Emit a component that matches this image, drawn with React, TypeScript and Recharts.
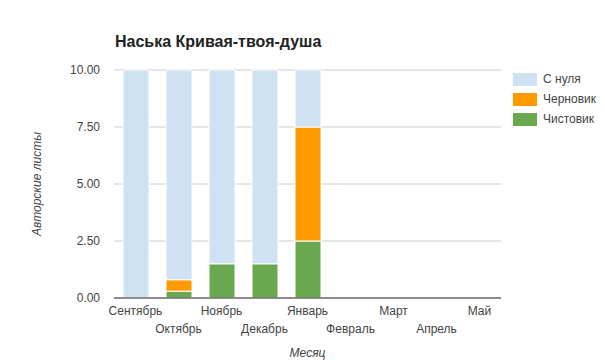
import { BarChart, Bar, XAxis, YAxis, CartesianGrid } from 'recharts';

const months = ['Сентябрь', 'Октябрь', 'Ноябрь', 'Декабрь', 'Январь', 'Февраль', 'Март', 'Апрель', 'Май'];
const clean = [0, 0.3, 1.5, 1.5, 2.5, 0, 0, 0, 0];
const draft = [0, 0.5, 0, 0, 5, 0, 0, 0, 0];
const fromScratch = [10, 9.2, 8.5, 8.5, 2.5, 0, 0, 0, 0];
const yTicks = [0, 2.5, 5, 7.5, 10];

const series = [
  { key: 'fromScratch', name: 'С нуля', color: '#cfe2f3' },
  { key: 'draft', name: 'Черновик', color: '#ff9900' },
  { key: 'clean', name: 'Чистовик', color: '#6aa84f' },
];

const data = months.map((m, i) => ({
  month: m,
  clean: clean[i],
  draft: draft[i],
  fromScratch: fromScratch[i],
}));

const font = 'Arial, "Liberation Sans", sans-serif';

function MonthTick(props: any) {
  const { x, y, payload, index } = props;
  const row = index % 2 === 0 ? 0 : 1;
  return (
    <text x={x} y={y + 9 + row * 18} textAnchor="middle" fill="#444" fontSize={12} fontFamily={font}>
      {payload.value}
    </text>
  );
}

export default function App() {
  return (
    <div style={{ position: 'absolute', left: 0, top: 0, width: 605, height: 360, background: '#fff', fontFamily: font }}>
      <div style={{ position: 'absolute', left: 115, top: 33, fontSize: 16, fontWeight: 'bold', color: '#222' }}>
        Наська Кривая-твоя-душа
      </div>
      <BarChart width={605} height={360} data={data} margin={{ top: 70, right: 104, bottom: 0, left: 0 }}>
        <CartesianGrid vertical={false} stroke="#ccc" />
        <XAxis
          dataKey="month"
          tick={<MonthTick />}
          tickLine={false}
          axisLine={{ stroke: '#333' }}
          interval={0}
          height={62}
          label={{ value: 'Месяц', position: 'insideBottom', offset: 3, fontStyle: 'italic', fontSize: 12, fill: '#444', fontFamily: font }}
        />
        <YAxis
          width={114}
          domain={[0, 10]}
          ticks={yTicks}
          tickFormatter={(v: number) => v.toFixed(2)}
          tickLine={false}
          axisLine={false}
          tickSize={6}
          tickMargin={8}
          tick={{ fill: '#444', fontSize: 12, fontFamily: font }}
          label={{ value: 'Авторские листы', angle: -90, position: 'insideLeft', offset: 37, fontStyle: 'italic', fontSize: 12, fill: '#444', fontFamily: font, style: { textAnchor: 'middle' } }}
        />
        <Bar dataKey="clean" stackId="a" barSize={26} fill="#6aa84f" stroke="#fff" strokeWidth={1} isAnimationActive={false} />
        <Bar dataKey="draft" stackId="a" barSize={26} fill="#ff9900" stroke="#fff" strokeWidth={1} isAnimationActive={false} />
        <Bar dataKey="fromScratch" stackId="a" barSize={26} fill="#cfe2f3" stroke="#fff" strokeWidth={1} isAnimationActive={false} />
      </BarChart>
      <div style={{ position: 'absolute', left: 513, top: 69 }}>
        {series.map((s) => (
          <div key={s.key} style={{ display: 'flex', alignItems: 'center', height: 20, fontSize: 12, color: '#444' }}>
            <div style={{ width: 24, height: 13, background: s.color, marginRight: 6 }} />
            {s.name}
          </div>
        ))}
      </div>
    </div>
  );
}
